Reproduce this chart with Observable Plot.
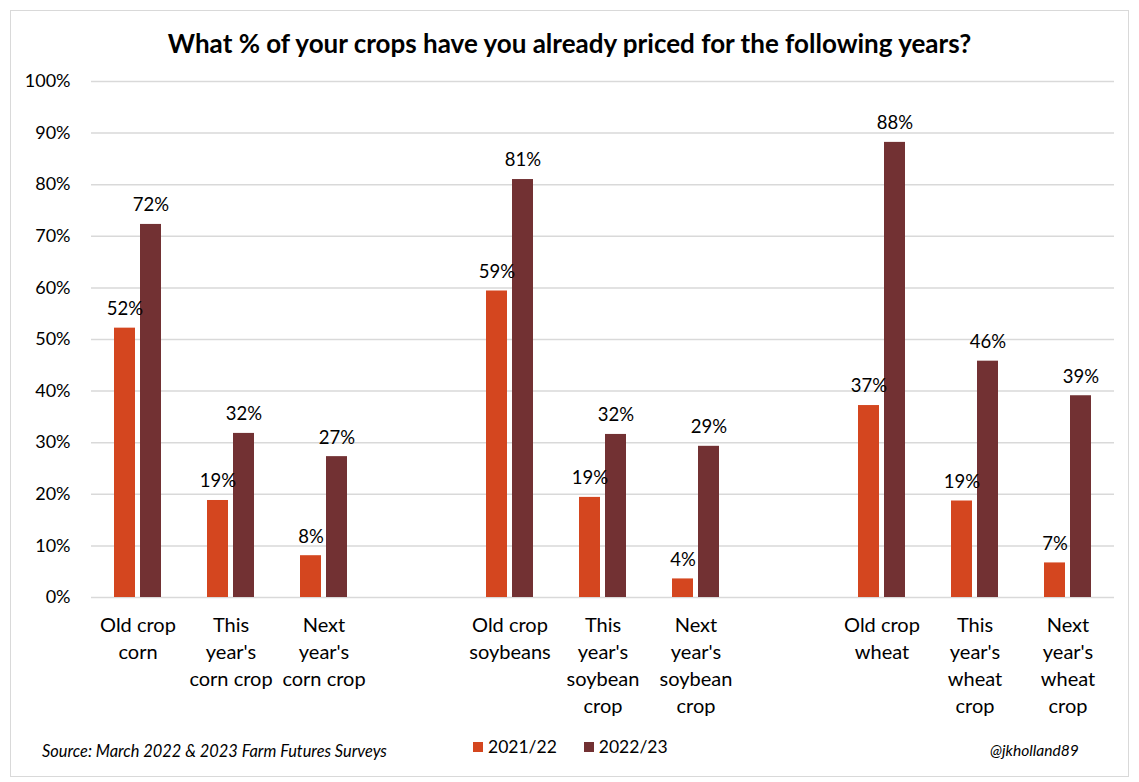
<!DOCTYPE html>
<html>
<head>
<meta charset="utf-8">
<script src="https://cdn.jsdelivr.net/npm/d3@7"></script>
<script src="https://cdn.jsdelivr.net/npm/@observablehq/plot@0.6"></script>
<style>
  html, body { margin: 0; padding: 0; background: #fff; }
  body { width: 1139px; height: 782px; position: relative; font-family: Lato, "Open Sans", sans-serif; color: #000; overflow: hidden; }
  #frame { position: absolute; left: 10px; top: 10px; width: 1119px; height: 767px; border: 1.5px solid #d9d9d9; box-sizing: border-box; }
  #title { position: absolute; left: 0; width: 1139px; top: 27px; text-align: center; font-size: 26px; font-weight: 700; }
  #chart { position: absolute; left: 0; top: 60px; }
  #source { position: absolute; left: 42px; top: 741px; font-size: 16.4px; font-style: italic; }
  #handle { position: absolute; left: 990px; top: 741px; font-size: 15.6px; font-style: italic; }
  #legend { position: absolute; left: 473px; top: 736px; font-size: 17.5px; display: flex; align-items: center; }
  .sw { width: 10px; height: 10px; display: inline-block; margin-right: 5px; }
  .item { display: flex; align-items: center; margin-right: 27px; }
</style>
</head>
<body>
<div id="frame"></div>
<div id="title"></div>
<div id="chart"></div>
<div id="legend"></div>
<div id="source"></div>
<div id="handle"></div>
<script>
const title = "What % of your crops have you already priced for the following years?";
const categories = ["Old crop\ncorn", "This\nyear's\ncorn crop", "Next\nyear's\ncorn crop", "gap1",
  "Old crop\nsoybeans", "This\nyear's\nsoybean\ncrop", "Next\nyear's\nsoybean\ncrop", "gap2",
  "Old crop\nwheat", "This\nyear's\nwheat\ncrop", "Next\nyear's\nwheat\ncrop"];
const seriesNames = ["2021/22", "2022/23"];
const values2122 = [52.2, 18.8, 8.1, null, 59.4, 19.4, 3.6, null, 37.2, 18.7, 6.7];
const values2223 = [72.3, 31.8, 27.3, null, 81.0, 31.6, 29.3, null, 88.2, 45.8, 39.1];
const colors = ["#D4461F", "#723133"];
const yTicks = [0, 10, 20, 30, 40, 50, 60, 70, 80, 90, 100];
const sourceText = "Source: March 2022 & 2023 Farm Futures Surveys";
const handleText = "@jkholland89";

const data = [];
categories.forEach((c, i) => {
  data.push({cat: c, series: seriesNames[0], value: values2122[i]});
  data.push({cat: c, series: seriesNames[1], value: values2223[i]});
});

document.getElementById("title").textContent = title;
document.getElementById("source").textContent = sourceText;
document.getElementById("handle").textContent = handleText;
const legend = document.getElementById("legend");
seriesNames.forEach((s, i) => {
  const it = document.createElement("div");
  it.className = "item";
  it.innerHTML = `<span class="sw" style="background:${colors[i]}"></span><span>${s}</span>`;
  legend.appendChild(it);
});

const plot = Plot.plot({
  width: 1139,
  height: 660,
  marginTop: 21,
  marginBottom: 123,
  marginLeft: 91,
  marginRight: 25,
  style: {fontFamily: "Lato, 'Open Sans', sans-serif", fontSize: "18px", color: "#000", background: "transparent"},
  fx: {domain: categories, padding: 0, label: null, axis: null},
  x: {domain: seriesNames, paddingInner: 0.19, paddingOuter: 0.88, axis: null},
  y: {domain: [0, 100], label: null, ticks: yTicks, tickFormat: d => d + "%", tickSize: 0, tickPadding: 21},
  color: {domain: seriesNames, range: colors},
  facet: {data: data, x: "cat", label: null},
  marks: [
    Plot.ruleY(yTicks, {stroke: "#d9d9d9", strokeWidth: 1.5}),
    Plot.barY(data, {x: "series", y: "value", fill: "series", filter: d => d.value != null}),
    Plot.text(data, {x: "series", y: "value", filter: d => d.value != null, text: d => Math.round(d.value) + "%", dy: -19, fontSize: 18.5, fill: "#000"}),
    Plot.axisY({ticks: yTicks, tickFormat: d => d + "%", tickSize: 0, tickPadding: 21, fontSize: 18}),
    Plot.axisFx({anchor: "bottom", tickFormat: d => d.startsWith("gap") ? "" : d, tickSize: 0, tickPadding: 15, fontSize: 20, lineHeight: 1.35, label: null})
  ]
});
document.getElementById("chart").appendChild(plot);
</script>
</body>
</html>
